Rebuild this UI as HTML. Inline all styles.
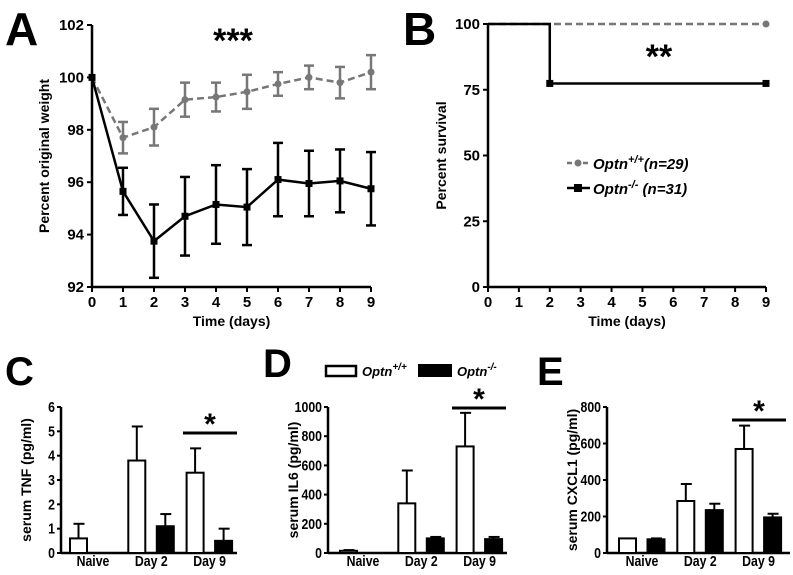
<!DOCTYPE html>
<html><head><meta charset="utf-8"><style>
body{margin:0;background:#fff;overflow:hidden;}
svg{display:block;font-family:"Liberation Sans",Arial,sans-serif;font-weight:bold;}
</style></head><body>
<svg id="fig" width="793" height="575" viewBox="0 0 793 575"></svg>
<script>
const days=[0,1,2,3,4,5,6,7,8,9];
const wtWeight=[100,97.7,98.1,99.15,99.25,99.45,99.75,100,99.8,100.2];
const wtErr=[0,0.6,0.7,0.65,0.55,0.65,0.45,0.45,0.6,0.65];
const koWeight=[100,95.65,93.75,94.7,95.15,95.05,96.1,95.95,96.05,95.75];
const koErr=[0,0.9,1.4,1.5,1.5,1.45,1.4,1.25,1.2,1.4];
const weightTicks=[92,94,96,98,100,102];
const survTimes=[0,2,9];
const wtSurv=[100,100,100];
const koSurv=[100,77.4,77.4];
const survTicks=[0,25,50,75,100];
const groups=["Naive","Day 2","Day 9"];
const tnfWT=[0.6,3.8,3.3], tnfWTerr=[0.6,1.4,1.0], tnfKO=[0,1.1,0.5], tnfKOerr=[0,0.5,0.5];
const tnfTicks=[0,1,2,3,4,5,6];
const il6WT=[15,340,730], il6WTerr=[5,225,230], il6KO=[0,100,95], il6KOerr=[0,10,15];
const il6Ticks=[0,200,400,600,800,1000];
const cxWT=[80,285,570], cxWTerr=[0,93,128], cxKO=[75,235,195], cxKOerr=[5,35,20];
const cxTicks=[0,200,400,600,800];

const svg=document.getElementById('fig');
const NS='http://www.w3.org/2000/svg';
function el(tag,attrs,name,parent){const e=document.createElementNS(NS,tag);for(const k in attrs)e.setAttribute(k,attrs[k]);


(parent||svg).appendChild(e);return e;}
function txt(x,y,s,size,name,anchor,extra){const t=el('text',Object.assign({x:x,y:y,'font-size':size,'text-anchor':anchor||'middle'},extra||{}),name);t.textContent=s;return t;}

txt(5,45,'A',46,'panel-label-a','start');
txt(403,45,'B',46,'panel-label-b','start');
txt(5,385,'C',40,'panel-label-c','start');
txt(263,377,'D',40,'panel-label-d','start');
txt(537,385,'E',40,'panel-label-e','start');

// Panel A
(function(){
 const x0=92,x9=371,yT=25,yB=287;
 const X=d=>x0+(x9-x0)*d/9, Y=v=>yB-(v-92)/10*(yB-yT);
 el('line',{x1:x0,y1:yT,x2:x0,y2:yB,stroke:'#000','stroke-width':2.5},'a-y-axis');
 el('line',{x1:x0,y1:yB,x2:x9,y2:yB,stroke:'#000','stroke-width':2.5},'a-x-axis');
 weightTicks.forEach(v=>{el('line',{x1:x0-5,y1:Y(v),x2:x0,y2:Y(v),stroke:'#000','stroke-width':2},'a-y-tick');txt(x0-8,Y(v)+5,String(v),15,'a-y-tick-label','end');});
 days.forEach(d=>{el('line',{x1:X(d),y1:yB,x2:X(d),y2:yB+5,stroke:'#000','stroke-width':2},'a-x-tick');txt(X(d),yB+20,String(d),15,'a-x-tick-label');});
 txt(X(4.5),yB+39,'Time (days)',14,'a-x-axis-title');
 txt(0,0,'Percent original weight',14,'a-y-axis-title','middle',{transform:`translate(49,${(yT+yB)/2}) rotate(-90)`});
 txt(233,52,'***',34,'a-significance');
 function series(vals,errs,col,dash,name,sq){
  el('polyline',{points:days.map((d,i)=>X(d)+','+Y(vals[i])).join(' '),fill:'none',stroke:col,'stroke-width':2.5,'stroke-dasharray':dash},name+'-line');
  days.forEach((d,i)=>{if(errs[i]>0){const yh=Y(vals[i]+errs[i]),yl=Y(vals[i]-errs[i]);
   el('line',{x1:X(d),y1:yh,x2:X(d),y2:yl,stroke:col,'stroke-width':2.5},name+'-errorbar');
   el('line',{x1:X(d)-5,y1:yh,x2:X(d)+5,y2:yh,stroke:col,'stroke-width':2.5},name+'-errorcap');
   el('line',{x1:X(d)-5,y1:yl,x2:X(d)+5,y2:yl,stroke:col,'stroke-width':2.5},name+'-errorcap');}
   if(sq)el('rect',{x:X(d)-3.5,y:Y(vals[i])-3.5,width:7,height:7,fill:col},name+'-point');
   else el('circle',{cx:X(d),cy:Y(vals[i]),r:3.5,fill:col},name+'-point');});
 }
 series(wtWeight,wtErr,'#777','7,4','a-wt',false);
 series(koWeight,koErr,'#000','','a-ko',true);
})();

// Panel B
(function(){
 const x0=488,x9=766,yT=24,yB=287;
 const X=d=>x0+(x9-x0)*d/9, Y=v=>yB-v/100*(yB-yT);
 el('line',{x1:x0,y1:yT,x2:x0,y2:yB,stroke:'#000','stroke-width':2.5},'b-y-axis');
 el('line',{x1:x0,y1:yB,x2:x9,y2:yB,stroke:'#000','stroke-width':2.5},'b-x-axis');
 survTicks.forEach(v=>{el('line',{x1:x0-5,y1:Y(v),x2:x0,y2:Y(v),stroke:'#000','stroke-width':2},'b-y-tick');txt(x0-8,Y(v)+5,String(v),15,'b-y-tick-label','end');});
 days.forEach(d=>{el('line',{x1:X(d),y1:yB,x2:X(d),y2:yB+5,stroke:'#000','stroke-width':2},'b-x-tick');txt(X(d),yB+20,String(d),15,'b-x-tick-label');});
 txt(X(4.5),yB+39,'Time (days)',14,'b-x-axis-title');
 txt(0,0,'Percent survival',14,'b-y-axis-title','middle',{transform:`translate(446,${(yT+yB)/2}) rotate(-90)`});
 function step(t,v){let p=[];for(let i=0;i<t.length;i++){if(i>0)p.push(X(t[i])+','+Y(v[i-1]));p.push(X(t[i])+','+Y(v[i]));}return p.join(' ');}
 el('polyline',{points:step(survTimes,wtSurv),fill:'none',stroke:'#777','stroke-width':2.5,'stroke-dasharray':'7,4'},'b-wt-line');
 el('polyline',{points:step(survTimes,koSurv),fill:'none',stroke:'#000','stroke-width':2.5},'b-ko-line');
 el('circle',{cx:X(9),cy:Y(wtSurv[2]),r:3.5,fill:'#777'},'b-wt-point');
 [1,2].forEach(i=>el('rect',{x:X(survTimes[i])-3.5,y:Y(koSurv[i])-3.5,width:7,height:7,fill:'#000'},'b-ko-point'));
 txt(659,68,'**',34,'b-significance');
 el('line',{x1:567,y1:163,x2:590,y2:163,stroke:'#777','stroke-width':2.5,'stroke-dasharray':'5,3'},'legend-wt-line');
 el('circle',{cx:578,cy:163,r:3.5,fill:'#777'},'legend-wt-marker');
 const t1=txt(593,169,'',15,'legend-wt-label','start',{'font-style':'italic'});
 t1.innerHTML='Optn<tspan dy="-6" font-size="11">+/+</tspan><tspan dy="6">(n=29)</tspan>';
 el('line',{x1:567,y1:188,x2:590,y2:188,stroke:'#000','stroke-width':2.5},'legend-ko-line');
 el('rect',{x:574,y:184,width:8,height:8,fill:'#000'},'legend-ko-marker');
 const t2=txt(593,194,'',15,'legend-ko-label','start',{'font-style':'italic'});
 t2.innerHTML='Optn<tspan dy="-6" font-size="11">-/-</tspan><tspan dy="6"> (n=31)</tspan>';
})();

// bar panels
function barPanel(p,ax,axEnd,off,maxV,ticks,wt,wtE,ko,koE,title,sigY,sigX){
 const yT=407,yB=553,Y=v=>yB-v/maxV*(yB-yT);
 el('line',{x1:ax,y1:yT,x2:ax,y2:yB,stroke:'#000','stroke-width':2.5},p+'-y-axis');
 el('line',{x1:ax,y1:yB,x2:axEnd,y2:yB,stroke:'#000','stroke-width':2.5},p+'-x-axis');
 ticks.forEach(v=>{el('line',{x1:ax-4,y1:Y(v),x2:ax,y2:Y(v),stroke:'#000','stroke-width':2},p+'-y-tick');txt(ax-6,Y(v)+5,String(v),15,p+'-y-tick-label','end',{transform:`translate(${ax-6},0) scale(0.82,1) translate(${-(ax-6)},0)`});});
 const bw=19;
 groups.forEach((g,i)=>{const gx=ax+off+i*58.3;
  txt(gx+24,566,g,15,p+'-x-tick-label','middle',{transform:`translate(${gx+24},0) scale(0.82,1) translate(${-(gx+24)},0)`});
  [[wt,wtE,'#fff','wt'],[ko,koE,'#000','ko']].forEach(([v,e,f,n],j)=>{const x=gx+j*28.5;
   if(e[i]>0){el('line',{x1:x+bw/2,y1:Y(v[i]),x2:x+bw/2,y2:Y(v[i]+e[i]),stroke:'#000','stroke-width':2},p+'-'+n+'-errorbar');
    el('line',{x1:x+bw/2-5,y1:Y(v[i]+e[i]),x2:x+bw/2+6,y2:Y(v[i]+e[i]),stroke:'#000','stroke-width':2},p+'-'+n+'-errorcap');}
   if(v[i]>0)el('rect',{x:x+1,y:Y(v[i]),width:bw-2,height:yB-Y(v[i]),fill:f,stroke:'#000','stroke-width':2},p+'-bar-'+n+'-'+i);});
 });
 el('line',{x1:sigX,y1:sigY,x2:sigX+54,y2:sigY,stroke:'#000','stroke-width':3},p+'-significance-line');
 txt(sigX+27,sigY+1,'*',30,p+'-significance');
 txt(0,0,title,14,p+'-y-axis-title','middle',{transform:`translate(${ax-30},${(yT+yB)/2}) rotate(-90)`});
}
barPanel('c',61,237,8,6,tnfTicks,tnfWT,tnfWTerr,tnfKO,tnfKOerr,'serum TNF (pg/ml)',433,183);
barPanel('d',328,507,11,1000,il6Ticks,il6WT,il6WTerr,il6KO,il6KOerr,'serum IL6 (pg/ml)',408,452);
barPanel('e',607,790,11,800,cxTicks,cxWT,cxWTerr,cxKO,cxKOerr,'serum CXCL1 (pg/ml)',420,732);

// legend D
el('rect',{x:326,y:366,width:30,height:10,fill:'#fff',stroke:'#000','stroke-width':2.5},'legend-d-wt-box');
const l1=txt(362,376,'',13,'legend-d-wt-label','start',{'font-style':'italic'});
l1.innerHTML='Optn<tspan dy="-6" font-size="10">+/+</tspan>';
el('rect',{x:418,y:364,width:34,height:13,fill:'#000'},'legend-d-ko-box');
const l2=txt(457,376,'',13,'legend-d-ko-label','start',{'font-style':'italic'});
l2.innerHTML='Optn<tspan dy="-6" font-size="10">-/-</tspan>';
</script>
</body></html>
